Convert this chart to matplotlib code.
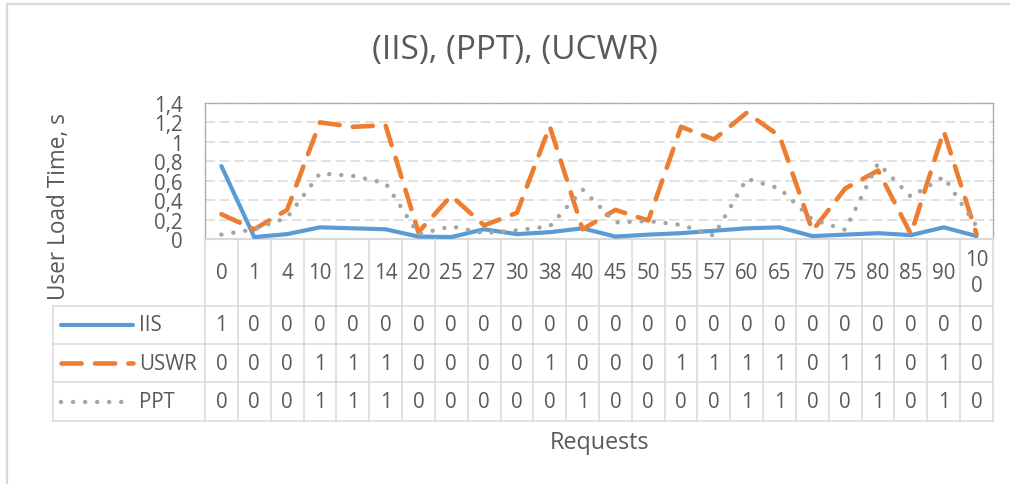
import matplotlib
matplotlib.use("Agg")
import matplotlib.pyplot as plt
from matplotlib.lines import Line2D
import numpy as np

plt.rcParams['font.family'] = ['Open Sans', 'DejaVu Sans']

# ---------------- data ----------------
categories = ["0", "1", "4", "10", "12", "14", "20", "25", "27", "30", "38", "40",
              "45", "50", "55", "57", "60", "65", "70", "75", "80", "85", "90", "100"]
iis = [0.75, 0.02, 0.05, 0.12, 0.11, 0.10, 0.025, 0.02, 0.10, 0.05, 0.07, 0.11,
       0.025, 0.045, 0.06, 0.085, 0.11, 0.12, 0.03, 0.045, 0.06, 0.04, 0.12, 0.03]
uswr = [0.255, 0.10, 0.30, 1.20, 1.155, 1.17, 0.07, 0.445, 0.14, 0.27, 1.16, 0.10,
        0.30, 0.19, 1.155, 1.025, 1.30, 1.06, 0.085, 0.52, 0.705, 0.05, 1.11, 0.05]
ppt = [0.045, 0.10, 0.22, 0.675, 0.65, 0.575, 0.05, 0.13, 0.06, 0.09, 0.13, 0.51,
       0.17, 0.185, 0.145, 0.035, 0.62, 0.52, 0.20, 0.095, 0.78, 0.435, 0.64, 0.13]
series_names = ["IIS", "USWR", "PPT"]
y_ticks = [0, 0.2, 0.4, 0.6, 0.8, 1.0, 1.2, 1.4]
y_tick_labels = ["0", "0,2", "0,4", "0,6", "0,8", "1", "1,2", "1,4"]
title = "(IIS), (PPT), (UCWR)"
x_title = "Requests"
y_title = "User Load Time, s"

# ---------------- style ----------------
W, H = 1010, 485
TXT = '#595959'
GRID = '#d9d9d9'
C_IIS, C_USWR, C_PPT = '#5B9BD5', '#ED7D31', '#A5A5A5'
FS = 14.8

fig = plt.figure(figsize=(W / 100, H / 100), dpi=100)

def fx(px):
    return px / W

def fy(py):
    return 1 - py / H

# plot area in pixels
L, R, T, B = 205, 993, 104, 240
TB = 422  # table bottom
ax = fig.add_axes([fx(L), fy(B), (R - L) / W, (B - T) / H])
x = np.arange(len(categories))
n = len(categories)

styles = [
    dict(color=C_IIS, lw=3.0, linestyle='-', solid_capstyle='round', solid_joinstyle='round'),
    dict(color=C_USWR, lw=3.3, linestyle=(0, (4.4, 2.9)), dash_capstyle='round', dash_joinstyle='round'),
    dict(color=C_PPT, lw=3.2, linestyle=(0, (0.01, 2.7)), dash_capstyle='round'),
]
for vals, st in zip([iis, uswr, ppt], styles):
    ax.plot(x, vals, zorder=3, **st)

ax.set_xlim(-0.5, n - 0.5)
ax.set_ylim(0, 1.4)
ax.set_yticks(y_ticks)
ax.set_yticklabels(y_tick_labels)
ax.set_xticks([])
ax.tick_params(axis='y', length=0, pad=16, labelsize=FS, labelcolor=TXT)
ax.yaxis.grid(True, color=GRID, linestyle=(0, (6.5, 3)), lw=1.1, zorder=0)
ax.set_axisbelow(True)
for s in ['top', 'left', 'right']:
    ax.spines[s].set_color('#a6a6a6')
    ax.spines[s].set_linestyle((0, (1, 1.2)))
    ax.spines[s].set_linewidth(1.0)
ax.spines['bottom'].set_color(GRID)
ax.spines['bottom'].set_linewidth(1.5)

# ---------------- data table ----------------
tax = fig.add_axes([fx(L), fy(TB), (R - L) / W, (TB - B) / H])
tax.set_xlim(-0.5, n - 0.5)
tax.set_ylim(TB - B, 0)
tax.axis('off')
cw = (R - L) / n

def dx(px):
    return -0.5 + (px - L) / cw

rows = [0, 306.7 - B, 345 - B, 383.3 - B, TB - B]
leg_left = dx(53)
lc = dict(color=GRID, lw=1.1, clip_on=False, zorder=1)
for b in np.arange(n + 1) - 0.5:
    tax.plot([b, b], [rows[0], rows[-1]], **lc)
tax.plot([leg_left, leg_left], [rows[1], rows[-1]], **lc)
for r in rows[1:]:
    tax.plot([leg_left, n - 0.5], [r, r], **lc)

# header (category labels); long labels wrap like Excel
for i, c in enumerate(categories):
    lab = c if len(c) < 3 else c[:2] + "\n" + c[2:]
    tax.text(i, (rows[0] + rows[1]) / 2, lab, ha='center', va='center',
             fontsize=FS, color=TXT, linespacing=1.3, clip_on=False)

for k, (name, vals, st) in enumerate(zip(series_names, [iis, uswr, ppt], styles)):
    yc = (rows[k + 1] + rows[k + 2]) / 2
    tax.plot([dx(61), dx(133)], [yc, yc], clip_on=False, **st)
    tax.text(dx(139), yc, name, ha='left', va='center', fontsize=FS, color=TXT, clip_on=False)
    for i, v in enumerate(vals):
        tax.text(i, yc, str(int(np.floor(v + 0.5))), ha='center', va='center',
                 fontsize=FS, color=TXT, clip_on=False)

# ---------------- titles ----------------
fig.text(fx(515), fy(51), title, ha='center', va='center', fontsize=24, color=TXT)
fig.text(fx((L + R) / 2), fy(443), x_title, ha='center', va='center', fontsize=16.8, color=TXT)
fig.text(fx(59), fy(207), y_title, ha='center', va='center', rotation=90, fontsize=16.3, color=TXT)

# chart border (top & left visible)
fig.add_artist(Line2D([fx(7), 1], [fy(5), fy(5)], color=GRID, lw=1.6))
fig.add_artist(Line2D([fx(7), fx(7)], [fy(5), 0], color=GRID, lw=1.6))

fig.savefig("out.png", dpi=100, facecolor='white')
